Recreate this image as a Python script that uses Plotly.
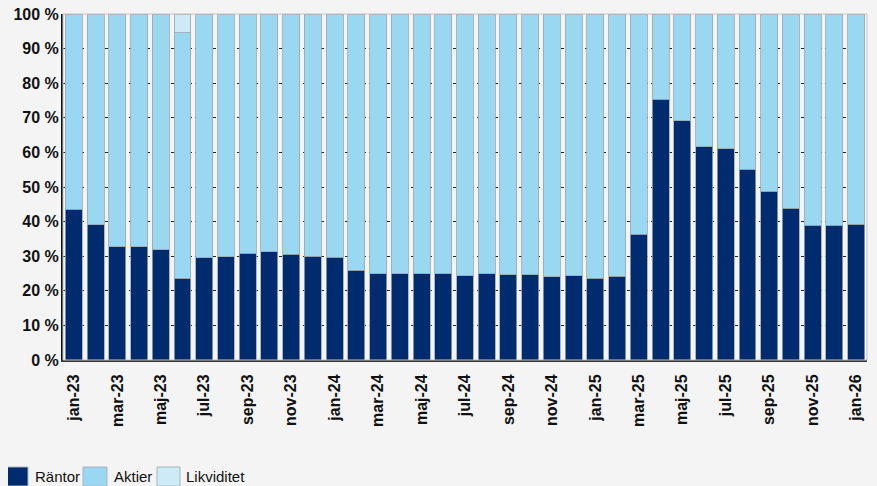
import plotly.graph_objects as go

months = ["jan-23","feb-23","mar-23","apr-23","maj-23","jun-23","jul-23","aug-23","sep-23","okt-23","nov-23","dec-23",
          "jan-24","feb-24","mar-24","apr-24","maj-24","jun-24","jul-24","aug-24","sep-24","okt-24","nov-24","dec-24",
          "jan-25","feb-25","mar-25","apr-25","maj-25","jun-25","jul-25","aug-25","sep-25","okt-25","nov-25","dec-25",
          "jan-26"]
rantor = [43.6, 39.1, 32.7, 32.7, 31.9, 23.7, 29.5, 29.8, 30.9, 31.3, 30.6, 30.0,
          29.7, 26.0, 25.0, 25.0, 25.0, 25.0, 24.4, 25.0, 24.7, 24.7, 24.1, 24.4,
          23.7, 24.2, 36.4, 75.3, 69.2, 61.6, 61.0, 55.2, 48.8, 43.8, 39.0, 39.0,
          39.3]
likviditet = [0, 0, 0, 0, 0, 5.4, 0, 0, 0, 0, 0, 0,
              0, 0, 0, 0, 0, 0, 0, 0, 0, 0, 0, 0,
              0, 0, 0, 0, 0, 0, 0, 0, 0, 0, 0, 0,
              0]
aktier = [round(100 - r - l, 1) for r, l in zip(rantor, likviditet)]

tick_months = months[::2]
y_ticks = [0, 10, 20, 30, 40, 50, 60, 70, 80, 90, 100]
y_labels = [f"{v} %" for v in y_ticks]

series_names = ["Räntor", "Aktier", "Likviditet"]
colors = ["#002b6e", "#9ad8f1", "#cdeaf7"]

OFF = 8  # page body margin
W, H = 877 - OFF, 486 - OFF
ML, MT = 63 - OFF, 14 - OFF
MR = W - (867 - OFF)
MB = H - (360 - OFF)
PW, PH = W - ML - MR, H - MT - MB

def px_x(p):
    return (p - OFF - ML) / PW

def px_y(p):
    return (H - MB - (p - OFF)) / PH

fig = go.Figure()
for name, vals, col in zip(series_names, [rantor, aktier, likviditet], colors):
    fig.add_trace(go.Bar(
        x=months, y=vals, name=name,
        marker=dict(color=col, line=dict(color="#9aa6ae", width=0.8)),
        showlegend=False,
    ))

shapes = [dict(type="rect", xref="paper", yref="paper", x0=0, x1=1, y0=0, y1=1,
               line=dict(color="#c4c4c4", width=1), fillcolor="rgba(0,0,0,0)", layer="above")]
annotations = []
legend_pos = [(5, 28, 33), (83, 107, 112), (157, 180, 184)]
for (bx0, bx1, tx), name, col in zip(legend_pos, series_names, colors):
    shapes.append(dict(type="rect", xref="paper", yref="paper",
                       x0=px_x(bx0), x1=px_x(bx1), y0=px_y(467), y1=px_y(486),
                       fillcolor=col, line=dict(color="#a9b4bb", width=1)))
    annotations.append(dict(xref="paper", yref="paper", x=px_x(tx), y=px_y(476),
                            text=name, showarrow=False, xanchor="left", yanchor="middle",
                            font=dict(family="Liberation Sans, Arial, sans-serif",
                                      size=15, color="#111111")))

fig.update_layout(
    width=W, height=H,
    margin=dict(l=ML, r=MR, t=MT, b=MB, autoexpand=False),
    barmode="stack", bargap=0.22,
    paper_bgcolor="#f4f4f4", plot_bgcolor="#f4f4f4",
    shapes=shapes, annotations=annotations,
    font=dict(family="Liberation Sans, Arial, sans-serif", color="#111111"),
)
fig.update_xaxes(
    type="category", tickmode="array", tickvals=tick_months, ticktext=tick_months,
    tickangle=-90, tickfont=dict(size=16, weight="bold", color="#111111"),
    showline=True, linecolor="#333333", linewidth=2, showgrid=False, ticks="",
    ticklabelstandoff=6, ticklabeloverflow="allow", automargin=False,
)
fig.update_yaxes(
    range=[0, 100], tickmode="array", tickvals=y_ticks, ticktext=y_labels,
    tickfont=dict(size=16, weight="bold", color="#111111"),
    showline=True, linecolor="#111111", linewidth=2, ticks="",
    showgrid=True, gridcolor="#222222", gridwidth=1, griddash="3px,3px",
    zeroline=False, ticklabelstandoff=-1, ticklabeloverflow="allow", automargin=False,
)
fig.write_html("out.html",
               post_script="document.body.style.background='#f4f4f4';document.documentElement.style.background='#f4f4f4';")
